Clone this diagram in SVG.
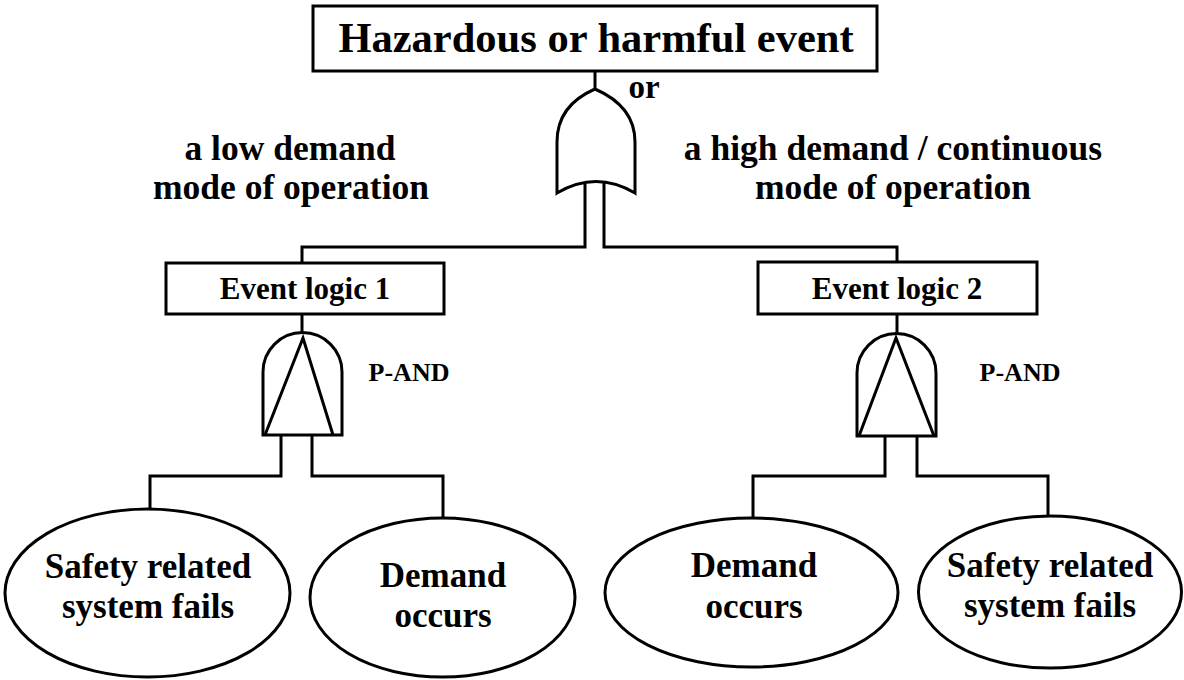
<svg xmlns="http://www.w3.org/2000/svg" width="1184" height="680" viewBox="0 0 1184 680">
<style>
.s{fill:none;stroke:#000;stroke-width:3;stroke-linejoin:miter}
.n{fill:#fff;stroke:#000;stroke-width:3}
.t{font-family:"Liberation Serif","Times New Roman",serif;font-weight:bold;fill:#000;text-anchor:middle}
</style>
<rect width="1184" height="680" fill="#fff"/>
<g id="connectors" class="s">
<path d="M595,71 V89"/>
<path d="M585,183 V247 H302 V263"/>
<path d="M604,183 V247 H897 V262"/>
<path d="M302,314 V333"/>
<path d="M897,314 V333"/>
<path d="M281,435 V476 H150 V509"/>
<path d="M312,435 V476 H443 V518"/>
<path d="M885,436 V476 H753 V518"/>
<path d="M917,436 V476 H1048 V516"/>
</g>
<g id="top-event">
<rect class="n" x="313" y="6" width="564" height="65"/>
<text class="t" x="596" y="52" font-size="42.5">Hazardous or harmful event</text>
</g>
<g id="or-gate">
<path class="n" d="M595,89 C572,99 557,115 557,142 L557,193 Q596,170 635,193 L635,142 C635,115 618,99 595,89 Z"/>
<text class="t" x="644" y="98" font-size="33">or</text>
</g>
<g id="label-low">
<text class="t" x="290" y="160" font-size="35.5">a low demand</text>
<text class="t" x="291" y="199" font-size="35.5">mode of operation</text>
</g>
<g id="label-high">
<text class="t" x="893" y="160" font-size="35.5">a high demand / continuous</text>
<text class="t" x="893" y="199" font-size="35.5">mode of operation</text>
</g>
<g id="event-logic-1">
<rect class="n" x="166" y="263" width="278" height="51"/>
<text class="t" x="305" y="299" font-size="31">Event logic 1</text>
</g>
<g id="event-logic-2">
<rect class="n" x="758" y="262" width="279" height="52"/>
<text class="t" x="897" y="299" font-size="31">Event logic 2</text>
</g>
<g id="pand-gate-1">
<path class="n" d="M263,435 V372 A39.5,39.5 0 0 1 342,372 V435 Z"/>
<path class="s" d="M265,435 L303,338 L333,435"/>
<text class="t" x="409" y="381" font-size="26">P-AND</text>
</g>
<g id="pand-gate-2">
<path class="n" d="M857,436 V373 A39.5,39.5 0 0 1 936,373 V436 Z"/>
<path class="s" d="M859,436 L896,338 L934,436"/>
<text class="t" x="1020" y="381" font-size="26">P-AND</text>
</g>
<g id="safety-1">
<ellipse class="n" cx="147.5" cy="593" rx="142.5" ry="84"/>
<text class="t" x="148" y="578" font-size="35">Safety related</text>
<text class="t" x="148" y="618" font-size="35">system fails</text>
</g>
<g id="demand-1">
<ellipse class="n" cx="442.5" cy="597.5" rx="132.5" ry="79.5"/>
<text class="t" x="443" y="587" font-size="35">Demand</text>
<text class="t" x="443" y="627" font-size="35">occurs</text>
</g>
<g id="demand-2">
<ellipse class="n" cx="751.5" cy="592.5" rx="146.5" ry="74.5"/>
<text class="t" x="754" y="577" font-size="35">Demand</text>
<text class="t" x="754" y="618" font-size="35">occurs</text>
</g>
<g id="safety-2">
<ellipse class="n" cx="1050" cy="592" rx="131.5" ry="76"/>
<text class="t" x="1050" y="577" font-size="35">Safety related</text>
<text class="t" x="1050" y="617" font-size="35">system fails</text>
</g>
</svg>
